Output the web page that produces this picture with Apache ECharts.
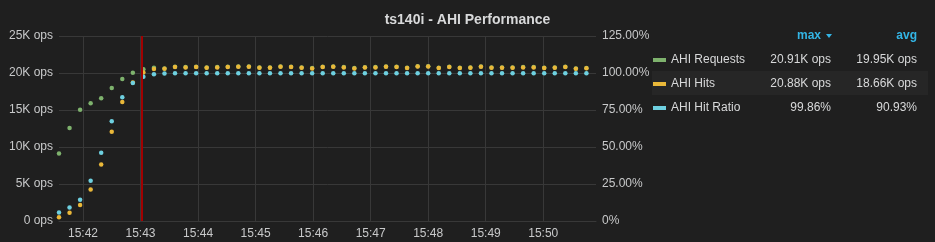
<!DOCTYPE html>
<html>
<head>
<meta charset="utf-8">
<script src="https://cdn.jsdelivr.net/npm/echarts@6/dist/echarts.min.js"></script>
<style>
html,body{margin:0;padding:0;background:#1f1f1f;}
#c{width:935px;height:242px;}
</style>
</head>
<body>
<div id="c"></div>
<script>
// ---- data ----
const times = [
 '15:41:35','15:41:46','15:41:57','15:42:08','15:42:19','15:42:30','15:42:41','15:42:52','15:43:03','15:43:14',
 '15:43:25','15:43:36','15:43:47','15:43:58','15:44:09','15:44:20','15:44:31','15:44:42','15:44:53','15:45:04',
 '15:45:15','15:45:26','15:45:37','15:45:48','15:45:59','15:46:10','15:46:21','15:46:32','15:46:43','15:46:54',
 '15:47:05','15:47:16','15:47:27','15:47:38','15:47:49','15:48:00','15:48:11','15:48:22','15:48:33','15:48:44',
 '15:48:55','15:49:06','15:49:17','15:49:28','15:49:39','15:49:50','15:50:01','15:50:12','15:50:23','15:50:34',
 '15:50:45'
];
const ahiRequests = [
 9130,12570,15040,15900,16600,17970,19200,20040,20500,20700,
 20620,20850,20800,20850,20760,20800,20850,20890,20890,20760,
 20760,20890,20840,20760,20660,20840,20880,20800,20660,20780,
 20800,20880,20850,20710,20900,20910,20710,20850,20710,20760,
 20880,20760,20760,20760,20800,20800,20710,20760,20850,20620,
 20670
];
const ahiHits = [
 490,1120,2160,4270,7650,12070,16080,18700,20080,20540,
 20580,20810,20760,20810,20720,20760,20810,20850,20850,20720,
 20720,20860,20800,20720,20620,20800,20850,20760,20620,20740,
 20760,20850,20810,20670,20870,20880,20670,20810,20670,20720,
 20850,20720,20720,20720,20760,20760,20670,20720,20810,20580,
 20630
];
const ahiHitRatio = [
 5.8,9.2,14.4,27.2,46.1,67.4,83.6,93.3,97.5,99.1,
 99.6,99.8,99.8,99.8,99.8,99.8,99.8,99.8,99.8,99.8,
 99.8,99.8,99.8,99.8,99.8,99.8,99.8,99.8,99.8,99.8,
 99.8,99.8,99.8,99.8,99.8,99.86,99.8,99.8,99.8,99.8,
 99.8,99.8,99.8,99.8,99.8,99.8,99.8,99.8,99.8,99.8,
 99.8
];
const seriesNames = ['AHI Requests','AHI Hits','AHI Hit Ratio'];
const seriesColors = ['#7eb26d','#eab839','#6ed0e0'];
const maxLabels = ['20.91K ops','20.88K ops','99.86%'];
const avgLabels = ['19.95K ops','18.66K ops','90.93%'];
const leftTicks = [0,5000,10000,15000,20000,25000];
const rightTicks = [0,25,50,75,100,125];
const xRange = ['15:41:35','15:50:55'];
const annotationTime = '15:43:01.5';
const titleText = 'ts140i - AHI Performance';

// ---- helpers ----
function toTs(s){
  const p = s.split(':');
  const sec = parseFloat(p[2]);
  return new Date(2017,0,1,+p[0],+p[1],Math.floor(sec),Math.round((sec%1)*1000)).getTime();
}
function pad(n){return (n<10?'0':'')+n;}
const tsList = times.map(toTs);
function pairs(vals){return vals.map((v,i)=>[tsList[i],v]);}

const FONT = '"Liberation Sans", Arial, sans-serif';
const AX = '#c8c9ca';
const GRID = '#383838';

const chart = echarts.init(document.getElementById('c'), null, {renderer:'canvas'});
const option = {
  backgroundColor:'#1f1f1f',
  animation:false,
  title:{
    text:titleText, left:'center', top:8,
    textStyle:{color:'#d8d9da', fontSize:14, fontWeight:'bold', fontFamily:FONT}
  },
  grid:{left:59, right:339, top:36, bottom:21, containLabel:false},
  xAxis:{
    type:'time',
    min:toTs(xRange[0]), max:toTs(xRange[1]),
    minInterval:60000, maxInterval:60000,
    axisLine:{show:true, lineStyle:{color:GRID}},
    axisTick:{show:false},
    splitLine:{show:true, showMinLine:false, showMaxLine:false, lineStyle:{color:GRID, width:1}},
    axisLabel:{
      color:AX, fontSize:12, fontFamily:FONT, margin:7,
      showMinLabel:false, showMaxLabel:false,
      formatter:function(v){const d=new Date(v);return pad(d.getHours())+':'+pad(d.getMinutes());}
    }
  },
  yAxis:[
    {
      type:'value', min:leftTicks[0], max:leftTicks[leftTicks.length-1], interval:leftTicks[1]-leftTicks[0],
      axisLine:{show:false}, axisTick:{show:false},
      splitLine:{show:true, lineStyle:{color:GRID}},
      axisLabel:{color:AX, fontSize:12, fontFamily:FONT, margin:6,
        formatter:function(v){return v===0?'0 ops':(v/1000)+'K ops';}}
    },
    {
      type:'value', min:rightTicks[0], max:rightTicks[rightTicks.length-1], interval:rightTicks[1]-rightTicks[0],
      position:'right',
      axisLine:{show:false}, axisTick:{show:false},
      splitLine:{show:false},
      axisLabel:{color:AX, fontSize:12, fontFamily:FONT, margin:6,
        formatter:function(v){return v===0?'0%':v.toFixed(2)+'%';}}
    }
  ],
  legend:{
    orient:'vertical', left:653, top:54, itemGap:12, padding:0,
    itemWidth:13, itemHeight:4, icon:'rect',
    data:seriesNames,
    selectedMode:false,
    textStyle:{
      color:'#d8d9da', fontSize:12, fontFamily:FONT,
      rich:{
        n:{width:92, color:'#d8d9da', fontSize:12, fontFamily:FONT},
        m:{width:68, align:'right', color:'#d8d9da', fontSize:12, fontFamily:FONT},
        a:{width:86, align:'right', color:'#d8d9da', fontSize:12, fontFamily:FONT}
      }
    },
    formatter:function(name){
      const i = seriesNames.indexOf(name);
      return '{n|'+name+'}{m|'+maxLabels[i]+'}{a|'+avgLabels[i]+'}';
    }
  },
  graphic:[
    {type:'rect', z:-10, shape:{x:652,y:71,width:276,height:24}, style:{fill:'#262626'}},
    {type:'text', x:821, y:36, style:{text:'max', fill:'#33b5e5', font:'bold 12px '+FONT, textAlign:'right', textVerticalAlign:'middle'}},
    {type:'polygon', shape:{points:[[826,34],[832,34],[829,38]]}, style:{fill:'#33b5e5'}},
    {type:'text', x:917, y:36, style:{text:'avg', fill:'#33b5e5', font:'bold 12px '+FONT, textAlign:'right', textVerticalAlign:'middle'}}
  ],
  series:[
    {
      name:seriesNames[0], type:'scatter', yAxisIndex:0, data:pairs(ahiRequests),
      symbolSize:4.5, itemStyle:{color:seriesColors[0], opacity:1},
      markLine:{
        silent:true, symbol:['none','none'], label:{show:false},
        lineStyle:{color:'#a10000', width:2, type:'solid'},
        data:[{xAxis:toTs(annotationTime)}]
      }
    },
    {name:seriesNames[1], type:'scatter', yAxisIndex:0, data:pairs(ahiHits),
     symbolSize:4.5, itemStyle:{color:seriesColors[1], opacity:1}},
    {name:seriesNames[2], type:'scatter', yAxisIndex:1, data:pairs(ahiHitRatio),
     symbolSize:4.5, itemStyle:{color:seriesColors[2], opacity:1}}
  ]
};
chart.setOption(option);
</script>
</body>
</html>
